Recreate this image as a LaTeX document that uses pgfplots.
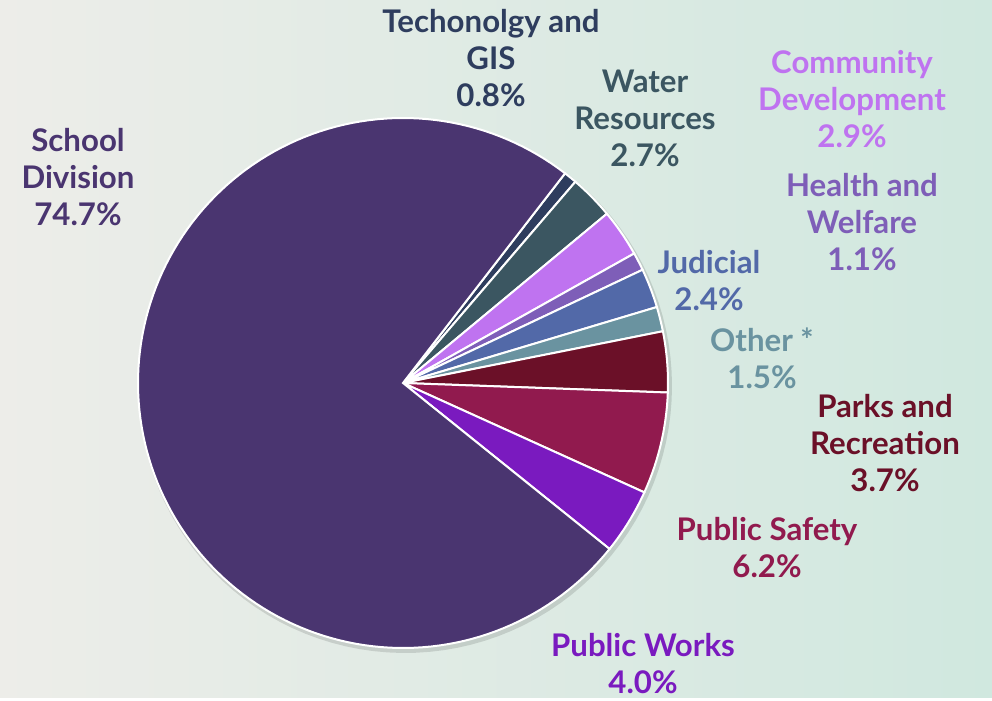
\documentclass[border=0pt]{standalone}
\usepackage{pgfplots}
\pgfplotsset{compat=1.18}
\usepackage{fontspec}
\setmainfont{Lato}
\definecolor{bgL}{RGB}{237,237,233}
\definecolor{bgR}{RGB}{208,232,223}
\definecolor{cSchool}{RGB}{74,53,112}
\definecolor{cTech}{RGB}{46,61,94}
\definecolor{cWater}{RGB}{59,86,97}
\definecolor{cComm}{RGB}{191,115,240}
\definecolor{cHealth}{RGB}{126,94,184}
\definecolor{cJud}{RGB}{82,105,168}
\definecolor{cOther}{RGB}{106,147,160}
\definecolor{cParks}{RGB}{107,16,40}
\definecolor{cSafety}{RGB}{145,26,78}
\definecolor{cWorks}{RGB}{122,26,191}
\tikzset{lab/.style={font=\fontsize{15.6}{18.5}\selectfont\bfseries, align=center}}
\begin{document}
\begin{tikzpicture}
\shade[left color=bgL, right color=bgR] (0,0) rectangle (496pt,349pt);
\begin{axis}[at={(0,0)}, anchor=south west, width=496pt, height=349pt,
  scale only axis, xmin=0, xmax=992, ymin=0, ymax=698, hide axis, clip=false,
  every axis plot/.append style={draw=white, line width=1pt, mark=none, variable=\t}]
% shares (%): School 74.7, Tech 0.8, Water 2.7, Community 2.9, Health 1.1,
% Judicial 2.4, Other 1.5, Parks 3.7, Safety 6.2, Works 4.0 ; 1% = 3.6 deg, start at 52.3 deg clockwise
\addplot[draw=none, fill=black, opacity=0.12, domain=0:360, samples=120] ({405+267*cos(\t)},{312+267*sin(\t)});
\addplot[fill=cTech, domain=49.42:52.30, samples=6] ({403+265*cos(\t)},{315+265*sin(\t)}) -- (403,315) -- cycle;
\addplot[fill=cWater, domain=39.70:49.42, samples=10] ({403+265*cos(\t)},{315+265*sin(\t)}) -- (403,315) -- cycle;
\addplot[fill=cComm, domain=29.26:39.70, samples=10] ({403+265*cos(\t)},{315+265*sin(\t)}) -- (403,315) -- cycle;
\addplot[fill=cHealth, domain=25.30:29.26, samples=6] ({403+265*cos(\t)},{315+265*sin(\t)}) -- (403,315) -- cycle;
\addplot[fill=cJud, domain=16.66:25.30, samples=10] ({403+265*cos(\t)},{315+265*sin(\t)}) -- (403,315) -- cycle;
\addplot[fill=cOther, domain=11.26:16.66, samples=6] ({403+265*cos(\t)},{315+265*sin(\t)}) -- (403,315) -- cycle;
\addplot[fill=cParks, domain=-2.06:11.26, samples=12] ({403+265*cos(\t)},{315+265*sin(\t)}) -- (403,315) -- cycle;
\addplot[fill=cSafety, domain=-24.38:-2.06, samples=16] ({403+265*cos(\t)},{315+265*sin(\t)}) -- (403,315) -- cycle;
\addplot[fill=cWorks, domain=-38.78:-24.38, samples=12] ({403+265*cos(\t)},{315+265*sin(\t)}) -- (403,315) -- cycle;
\addplot[fill=cSchool, domain=-307.70:-38.78, samples=150] ({403+265*cos(\t)},{315+265*sin(\t)}) -- (403,315) -- cycle;
\node[lab, text=cSchool] at (78,521) {School\\Division\\74.7\%};
\node[lab, text=cTech] at (491,640) {Techonolgy and\\GIS\\0.8\%};
\node[lab, text=cWater] at (645,580) {Water\\Resources\\2.7\%};
\node[lab, text=cComm] at (852,599) {Community\\Development\\2.9\%};
\node[lab, text=cHealth] at (862,476) {Health and\\Welfare\\1.1\%};
\node[lab, text=cJud] at (709,417) {Judicial\\2.4\%};
\node[lab, text=cOther] at (762,340) {Other *\\1.5\%};
\node[lab, text=cParks] at (885,255) {Parks and\\Recreation\\3.7\%};
\node[lab, text=cSafety] at (767,150) {Public Safety\\6.2\%};
\node[lab, text=cWorks] at (643,34) {Public Works\\4.0\%};
\end{axis}
\end{tikzpicture}
\end{document}
